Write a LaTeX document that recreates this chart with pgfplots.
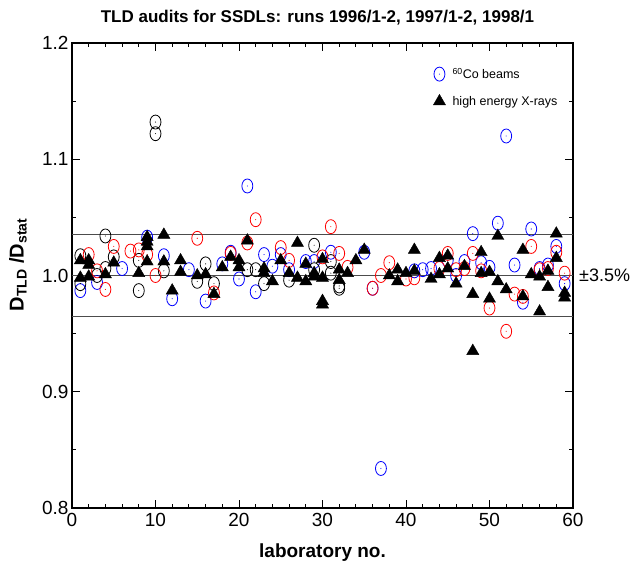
\documentclass[border=0pt]{standalone}
\usepackage{pgfplots}
\pgfplotsset{compat=1.18}
\usepackage{fontspec}
\setmainfont{Liberation Sans}
\pgfdeclareplotmark{dcirc}{%
  \pgfpathellipse{\pgfpointorigin}{\pgfpoint{0.78\pgfplotmarksize}{0pt}}{\pgfpoint{0pt}{\pgfplotmarksize}}%
  \pgfusepathqstroke
  \pgfpathcircle{\pgfpointorigin}{0.55pt}\pgfusepathqfill
}
\begin{document}
\begin{tikzpicture}
\path[use as bounding box] (-72pt,-62pt) rectangle (561pt,508pt);
\begin{axis}[
  scale only axis, width=501pt, height=465pt,
  xmin=0, xmax=60, ymin=0.8, ymax=1.2,
  xtick={0,10,20,30,40,50,60},
  ytick={0.8,0.9,1.0,1.1,1.2},
  minor x tick num=4, minor y tick num=1,
  tick align=inside, major tick length=8pt, minor tick length=4pt,
  axis line style={line width=1.4pt},
  every tick/.style={black, line width=0.9pt},
  /pgf/number format/assume math mode=true,
  yticklabel style={/pgf/number format/.cd, fixed, fixed zerofill, precision=1},
  ticklabel style={font=\fontsize{19}{22}\selectfont},
  xticklabel style={yshift=-2pt},
  clip=false,
  legend style={draw=none, fill=none, at={(rel axis cs:0.715,0.955)}, anchor=north west,
    font=\fontsize{12.5}{14}\selectfont, row sep=12pt, column sep=5pt, cells={anchor=west}},
]
\addplot[forget plot, black!70, line width=1.3pt] coordinates {(0,1.035) (60,1.035)};
\addplot[forget plot, black!70, line width=1.3pt] coordinates {(0,1.0) (60,1.0)};
\addplot[forget plot, black!70, line width=1.3pt] coordinates {(0,0.965) (60,0.965)};
% blue circles
\addplot[only marks, mark=dcirc, mark size=7pt, mark options={draw=blue, fill=blue, line width=0.8pt}] table {
x y
1 0.987
3 0.994
6 1.006
9 1.033
11 1.017
12 0.980
14 1.005
16 0.978
18 1.010
19 1.020
20 0.997
21 1.077
22 0.986
23 1.018
24 1.008
25 1.018
26 1.005
28 1.012
29 1.012
31 1.020
35 1.020
36 0.989
37 0.834
41 1.004
42 1.005
43 1.006
45 1.013
46 1.000
47 1.012
48 1.036
49 1.011
50 1.007
51 1.045
52 1.120
53 1.009
54 0.977
55 1.040
56 1.006
57 1.009
58 1.025
59 0.993
};
\addlegendentry{\textsuperscript{60}Co beams}
% black circles
\addplot[forget plot, only marks, mark=dcirc, mark size=7pt, mark options={draw=black, fill=black, line width=0.8pt}] table {
x y
1 1.017
1 0.993
3 1.000
4 1.034
4 1.006
5 1.016
8 1.013
8 0.987
10 1.132
10 1.122
11 1.004
15 0.995
16 1.010
17 0.993
21 1.005
22 1.005
23 0.993
26 0.996
29 1.026
29 1.005
31 1.012
31 1.002
32 0.991
32 0.989
};
% red circles
\addplot[forget plot, only marks, mark=dcirc, mark size=7pt, mark options={draw=red, fill=red, line width=0.8pt}] table {
x y
2 1.018
3 1.004
4 0.988
5 1.025
7 1.021
8 1.022
9 1.018
10 1.000
15 1.032
17 0.985
19 1.019
21 1.028
22 1.048
25 1.024
26 1.013
30 1.016
31 1.042
32 1.019
33 1.007
36 0.989
37 1.000
38 1.011
40 0.997
41 0.998
44 1.006
45 1.019
46 1.005
47 1.006
48 1.019
49 1.004
50 0.972
52 0.952
53 0.984
54 0.982
55 1.025
56 1.005
57 1.006
58 1.020
59 1.002
};
% triangles
\addplot[only marks, mark=triangle*, mark size=7pt, mark options={draw=black, fill=black}] table {
x y
1 1.013
1 0.998
2 1.013
2 1.009
2 0.999
4 1.001
5 1.011
8 1.002
9 1.033
9 1.029
9 1.025
9 1.012
11 1.035
11 1.012
12 0.987
13 1.013
13 1.003
15 1.000
16 1.001
17 0.984
18 1.007
19 1.016
20 1.013
20 1.007
21 1.030
23 1.006
23 1.002
24 0.995
25 1.013
26 1.002
27 1.028
27 0.998
28 1.010
28 0.995
29 1.002
29 0.999
30 1.014
30 0.998
30 0.978
30 0.975
32 1.005
32 0.996
33 1.002
34 1.013
35 1.022
38 1.000
39 1.005
39 0.995
40 1.002
41 1.022
41 1.004
43 0.997
44 1.015
44 1.001
45 1.017
45 1.006
46 0.993
47 1.008
48 0.984
48 0.935
49 1.020
49 1.002
50 1.003
50 0.980
51 1.034
51 0.995
52 0.988
54 1.022
54 0.982
55 1.001
56 0.999
56 0.969
57 1.004
57 0.990
58 1.036
58 1.015
59 0.985
59 0.981
};
\addlegendentry{high energy X-rays}
\node[font=\bfseries\fontsize{17}{20}\selectfont] at ([yshift=25pt]rel axis cs:0.49,1) {TLD audits for SSDLs: runs 1996/1-2, 1997/1-2, 1998/1};
\node[font=\bfseries\fontsize{19}{22}\selectfont, anchor=north, inner sep=0pt] at ([yshift=-36pt]rel axis cs:0.5,0) {laboratory no.};
\node[font=\bfseries\fontsize{20}{24}\selectfont, rotate=90, inner sep=0pt] at ([xshift=-54pt]rel axis cs:0,0.523) {D\textsubscript{TLD} /D\textsubscript{stat}};
\node[font=\fontsize{18}{22}\selectfont, anchor=west, inner sep=0pt] at ([xshift=6pt]axis cs:60,1.0) {±3.5\%};
\end{axis}
\end{tikzpicture}
\end{document}
